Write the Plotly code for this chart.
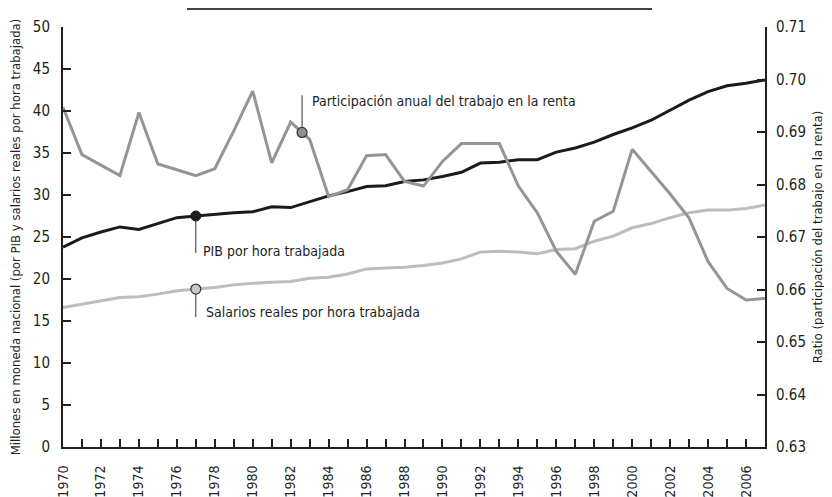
import numpy as np
import plotly.graph_objects as go

years = list(range(1970, 2008))

pib_por_hora = [23.8, 24.9, 25.6, 26.2, 25.9, 26.6, 27.3, 27.5, 27.7, 27.9,
                28.0, 28.6, 28.5, 29.2, 29.9, 30.4, 31.0, 31.1, 31.6, 31.8,
                32.2, 32.7, 33.8, 33.9, 34.2, 34.2, 35.1, 35.6, 36.3, 37.2,
                38.0, 38.9, 40.1, 41.3, 42.3, 43.0, 43.3, 43.7]

salarios_por_hora = [16.6, 17.0, 17.4, 17.8, 17.9, 18.2, 18.6, 18.8, 19.0, 19.3,
                     19.5, 19.6, 19.7, 20.1, 20.2, 20.6, 21.2, 21.3, 21.4, 21.6,
                     21.9, 22.4, 23.2, 23.3, 23.2, 23.0, 23.5, 23.6, 24.5, 25.1,
                     26.1, 26.6, 27.3, 27.9, 28.2, 28.2, 28.4, 28.8]

participacion = [0.6947, 0.6857, 0.6837, 0.6817, 0.6937, 0.6839, 0.6828, 0.6817, 0.6830, 0.6902,
                 0.6978, 0.6841, 0.6919, 0.6886, 0.6777, 0.6790, 0.6855, 0.6857, 0.6806, 0.6797,
                 0.6844, 0.6878, 0.6878, 0.6878, 0.6797, 0.6746, 0.6673, 0.6629, 0.6730, 0.6749,
                 0.6867, 0.6825, 0.6782, 0.6736, 0.6653, 0.6602, 0.6580, 0.6583]

tick_years = years
tick_text = [str(y) if y % 2 == 0 and y < 2007 else "" for y in tick_years]
left_ticks = [0, 5, 10, 15, 20, 25, 30, 35, 40, 45, 50]
right_ticks = [0.63, 0.64, 0.65, 0.66, 0.67, 0.68, 0.69, 0.70, 0.71]
right_ticktext = ["0.63", "0.64", "0.65", "0.66", "0.67", "0.68", "0.69", "0.70", "0.71"]

labels = ["PIB por hora trabajada", "Salarios reales por hora trabajada",
          "Participación anual del trabajo en la renta"]
label_years = [1977, 1977, 1982.6]

FONT = "Liberation Sans Narrow, DejaVu Sans Condensed, Arial Narrow, sans-serif"
INK = "#231f20"
C_PIB = "#1c1a1a"
C_SAL = "#bdbdbd"
C_PAR = "#959595"

fig = go.Figure()
fig.add_trace(go.Scatter(x=years, y=salarios_por_hora, mode="lines",
                         line=dict(color=C_SAL, width=3), yaxis="y", showlegend=False))
fig.add_trace(go.Scatter(x=years, y=participacion, mode="lines",
                         line=dict(color=C_PAR, width=3), yaxis="y2", showlegend=False))
fig.add_trace(go.Scatter(x=years, y=pib_por_hora, mode="lines",
                         line=dict(color=C_PIB, width=3), yaxis="y", showlegend=False))

# label markers, interpolated from the series
y_pib = float(np.interp(label_years[0], years, pib_por_hora))
y_sal = float(np.interp(label_years[1], years, salarios_por_hora))
y_par = float(np.interp(label_years[2], years, participacion))

fig.add_trace(go.Scatter(x=[label_years[0]], y=[y_pib], mode="markers", yaxis="y",
                         marker=dict(size=10, color=C_PIB, line=dict(color=C_PIB, width=1)),
                         showlegend=False))
fig.add_trace(go.Scatter(x=[label_years[1]], y=[y_sal], mode="markers", yaxis="y",
                         marker=dict(size=10, color="#c8c8c8", line=dict(color="#333", width=1.2)),
                         showlegend=False))
fig.add_trace(go.Scatter(x=[label_years[2]], y=[y_par], mode="markers", yaxis="y2",
                         marker=dict(size=10, color="#8f8f8f", line=dict(color="#333", width=1.2)),
                         showlegend=False))

shapes = [
    dict(type="line", xref="x", yref="y", ysizemode="pixel", yanchor=y_pib,
         x0=label_years[0], x1=label_years[0], y0=-5, y1=-37, line=dict(color="#333", width=1)),
    dict(type="line", xref="x", yref="y", ysizemode="pixel", yanchor=y_sal,
         x0=label_years[1], x1=label_years[1], y0=-5, y1=-28, line=dict(color="#333", width=1)),
    dict(type="line", xref="x", yref="y2", ysizemode="pixel", yanchor=y_par,
         x0=label_years[2], x1=label_years[2], y0=5, y1=37, line=dict(color="#333", width=1)),
    dict(type="line", xref="paper", yref="paper", x0=(187 - 63) / 702, x1=(652 - 63) / 702,
         y0=1 + 18 / 420, y1=1 + 18 / 420, line=dict(color="#444", width=2)),
]

annotations = [
    dict(x=label_years[0], y=y_pib, xref="x", yref="y", text=labels[0], showarrow=False,
         xanchor="left", yanchor="middle", xshift=5, yshift=-35,
         font=dict(family=FONT, size=14, color=INK)),
    dict(x=label_years[1], y=y_sal, xref="x", yref="y", text=labels[1], showarrow=False,
         xanchor="left", yanchor="middle", xshift=8, yshift=-23,
         font=dict(family=FONT, size=14, color=INK)),
    dict(x=label_years[2], y=y_par, xref="x", yref="y2", text=labels[2], showarrow=False,
         xanchor="left", yanchor="middle", xshift=8, yshift=31,
         font=dict(family=FONT, size=14, color=INK)),
]

# page body has an 8px margin: figure is sized/offset so the plot area lands at
# x 63..765, y 27..447 of the 832x497 window
fig.update_layout(
    width=824, height=489,
    margin=dict(l=55, r=67, t=19, b=50),
    paper_bgcolor="white", plot_bgcolor="white",
    font=dict(family=FONT, color=INK, size=15),
    shapes=shapes, annotations=annotations,
    xaxis=dict(range=[1970, 2007], tickmode="array", tickvals=tick_years, ticktext=tick_text,
               tickangle=-90, ticks="inside", ticklen=8, tickwidth=1.5, tickcolor=INK,
               showline=True, linecolor=INK, linewidth=2, showgrid=False, zeroline=False,
               tickfont=dict(size=14), automargin=False, ticklabelstandoff=11),
    yaxis=dict(range=[0, 50], tickvals=left_ticks, ticks="inside", ticklen=8, tickwidth=1.5,
               tickcolor=INK, showline=True, linecolor=INK, linewidth=2, showgrid=False,
               zeroline=False, tickfont=dict(size=15), automargin=False, ticklabelstandoff=8,
               title=dict(text="Millones en moneda nacional (por PIB y salarios reales por hora trabajada)",
                          font=dict(size=13), standoff=14)),
    yaxis2=dict(range=[0.63, 0.71], tickvals=right_ticks, ticktext=right_ticktext,
                overlaying="y", side="right", ticks="inside", ticklen=8, tickwidth=1.5,
                tickcolor=INK, showline=True, linecolor=INK, linewidth=2, showgrid=False,
                zeroline=False, tickfont=dict(size=15), automargin=False, ticklabelstandoff=6,
                title=dict(text="Ratio (participación del trabajo en la renta)",
                           font=dict(size=13), standoff=8)),
)

fig.write_html("out.html")
